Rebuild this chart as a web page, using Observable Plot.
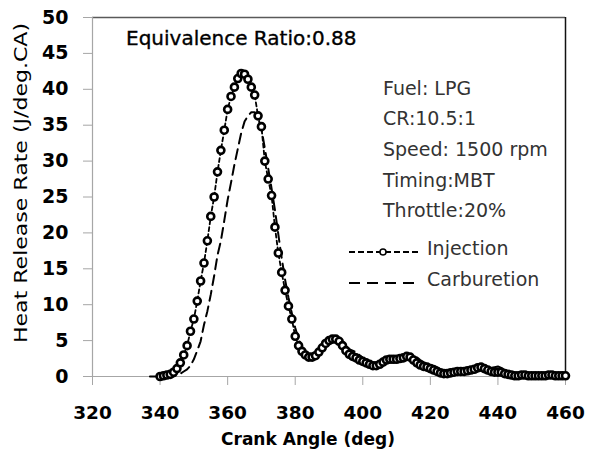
<!DOCTYPE html>
<html>
<head>
<meta charset="utf-8">
<script src="https://cdn.jsdelivr.net/npm/d3@7"></script>
<script src="https://cdn.jsdelivr.net/npm/@observablehq/plot@0.6"></script>
<style>
  html, body { margin: 0; padding: 0; background: #fff; }
  #chart svg { display: block; }
</style>
</head>
<body>
<div id="chart"></div>
<script>
// ---- data ----
const injAngles = d3.range(340, 461);
const injRate = [
  0.0,0.1,0.2,0.3,0.6,1.1,1.9,3.0,4.3,6.3,
  8.0,10.5,13.3,15.8,18.9,22.3,25.0,28.5,31.5,34.3,
  37.2,39.0,40.3,41.5,42.2,42.1,41.4,40.3,39.2,36.3,
  34.8,30.0,27.5,25.2,20.8,17.2,14.5,12.0,9.8,8.0,
  5.6,4.3,3.5,3.0,2.7,2.7,2.9,3.4,4.0,4.6,
  5.0,5.2,5.2,4.9,4.3,3.6,3.1,2.8,2.6,2.3,
  2.1,1.9,1.7,1.5,1.5,1.7,2.0,2.3,2.4,2.4,
  2.4,2.5,2.6,2.8,2.7,2.3,1.9,1.6,1.4,1.3,
  1.1,0.9,0.7,0.5,0.4,0.4,0.5,0.6,0.7,0.7,
  0.7,0.8,0.9,1.0,1.2,1.3,1.1,0.9,0.7,0.6,
  0.6,0.6,0.4,0.3,0.2,0.1,0.1,0.2,0.2,0.1,
  0.1,0.1,0.1,0.1,0.1,0.2,0.2,0.1,0.1,0.1,0.1
];
const carbAngles = d3.range(337, 461);
const carbRate = [
  0.0,0.0,0.0,0.0,0.0,0.0,0.0,0.0,
  0.2,0.4,0.7,1.0,1.5,
  2.4,3.6,4.9,7.2,9.1,11.4,14.0,16.9,18.9,21.7,
  24.6,27.0,29.5,31.7,33.9,35.5,36.3,36.8,36.8,36.0,
  34.5,31.8,29.0,26.2,23.2,19.8,16.5,13.5,11.0,8.8,
  6.8,5.2,4.1,3.4,3.0,2.9,2.9,3.3,3.9,4.5,
  5.0,5.3,5.3,5.1,4.7,4.2,3.8,3.6,3.4,3.0,
  2.6,2.2,1.9,1.7,1.7,1.9,2.2,2.5,2.7,2.8,
  2.8,2.9,3.0,3.1,3.1,3.0,2.7,2.3,2.0,1.8,
  1.6,1.5,1.3,1.0,0.8,0.7,0.7,0.8,0.9,0.9,
  0.9,1.0,1.1,1.3,1.4,1.4,1.3,1.2,1.2,1.3,
  1.4,1.2,0.9,0.6,0.4,0.3,0.3,0.3,0.3,0.2,
  0.2,0.2,0.2,0.2,0.2,0.2,0.2,0.2,0.2,0.2,0.2
];
const xTicks = [320, 340, 360, 380, 400, 420, 440, 460];
const yTicks = [0, 5, 10, 15, 20, 25, 30, 35, 40, 45, 50];
const seriesNames = ["Injection", "Carburetion"];
const xTitle = "Crank Angle (deg)";
const yTitle = "Heat Release Rate (J/deg.CA)";
const headline = "Equivalence Ratio:0.88";
const conditions = ["Fuel: LPG", "CR:10.5:1", "Speed: 1500 rpm", "Timing:MBT", "Throttle:20%"];

const inj = injAngles.map((a, i) => ({angle: a, rate: injRate[i]}));
const carb = carbAngles.map((a, i) => ({angle: a, rate: carbRate[i]}));

const FONT = "DejaVu Sans";

const chart = Plot.plot({
  width: 593,
  height: 452,
  marginLeft: 92,
  marginRight: 28,
  marginTop: 17,
  marginBottom: 76,
  style: {fontFamily: FONT, background: "#fff", color: "#000"},
  x: {domain: [320, 460]},
  y: {domain: [0, 50]},
  marks: [
    Plot.ruleY([50], {stroke: "#595959", strokeWidth: 1.5}),
    Plot.ruleX([460], {stroke: "#111", strokeWidth: 1.5}),
    Plot.ruleX([320], {stroke: "#a6a6a6", strokeWidth: 1.2}),
    Plot.ruleY([0], {stroke: "#a6a6a6", strokeWidth: 1.2, x1: 318, x2: 460}),
    Plot.axisY({ticks: yTicks, tickSize: 9, tickPadding: 15, stroke: "#a6a6a6", fill: "#000",
      fontSize: 19, fontWeight: "bold", label: null, tickFormat: d => d}),
    Plot.axisX({ticks: xTicks, tickSize: 9, tickPadding: 20, stroke: "#a6a6a6", fill: "#000",
      fontSize: 18.5, fontWeight: "bold", label: null, tickFormat: d => d}),
    Plot.line(carb, {x: "angle", y: "rate", stroke: "#000", strokeWidth: 2, strokeDasharray: "10,6"}),
    Plot.line(inj, {x: "angle", y: "rate", stroke: "#000", strokeWidth: 1.8, strokeDasharray: "4,3"}),
    Plot.dot(inj, {x: "angle", y: "rate", r: 3.5, stroke: "#000", strokeWidth: 2.6, fill: "#fff"})
  ]
});

document.getElementById("chart").appendChild(chart);

// ---- titles, annotations and legend ----
const svg = d3.select(chart);
svg.append("text")
  .attr("transform", "translate(27,183) rotate(-90)")
  .attr("text-anchor", "middle")
  .attr("font-family", FONT).attr("font-size", 18)
  .attr("textLength", 320).attr("lengthAdjust", "spacingAndGlyphs")
  .attr("fill", "#000")
  .text(yTitle);
svg.append("text")
  .attr("x", 308).attr("y", 445)
  .attr("text-anchor", "middle")
  .attr("font-family", FONT).attr("font-size", 17.5).attr("font-weight", "bold")
  .attr("textLength", 174).attr("lengthAdjust", "spacingAndGlyphs")
  .attr("fill", "#000")
  .text(xTitle);
svg.append("text")
  .attr("x", 126).attr("y", 45)
  .attr("text-anchor", "start")
  .attr("font-family", FONT).attr("font-size", 20)
  .attr("fill", "#000").attr("stroke", "#000").attr("stroke-width", 0.35)
  .text(headline);
const baselines = [94.5, 125, 156, 186.5, 217];
conditions.forEach((t, i) => {
  svg.append("text")
    .attr("x", 383).attr("y", baselines[i])
    .attr("text-anchor", "start")
    .attr("font-family", FONT).attr("font-size", 19)
    .attr("fill", "#333")
    .text(t);
});
// legend
const lg = svg.append("g").attr("text-anchor", "start");
lg.append("line").attr("x1", 349).attr("x2", 418).attr("y1", 252).attr("y2", 252)
  .attr("stroke", "#000").attr("stroke-width", 2).attr("stroke-dasharray", "6,3");
lg.append("circle").attr("cx", 383).attr("cy", 252).attr("r", 3)
  .attr("fill", "#fff").attr("stroke", "#000").attr("stroke-width", 1.5);
lg.append("text").attr("x", 427).attr("y", 255)
  .attr("font-family", FONT).attr("font-size", 19).attr("fill", "#333").text(seriesNames[0]);
lg.append("line").attr("x1", 349).attr("x2", 414).attr("y1", 283).attr("y2", 283)
  .attr("stroke", "#000").attr("stroke-width", 2.2).attr("stroke-dasharray", "11,7");
lg.append("text").attr("x", 427).attr("y", 286)
  .attr("font-family", FONT).attr("font-size", 19).attr("fill", "#333").text(seriesNames[1]);
</script>
</body>
</html>
